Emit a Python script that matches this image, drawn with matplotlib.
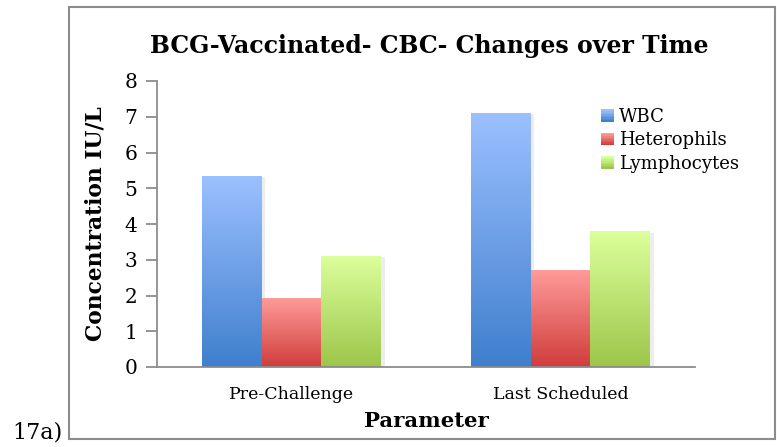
import numpy as np
import matplotlib
matplotlib.use("Agg")
import matplotlib.pyplot as plt
from matplotlib.colors import LinearSegmentedColormap
from matplotlib.patches import Rectangle
from matplotlib.legend_handler import HandlerBase

# data
categories = ["Pre-Challenge", "Last Scheduled"]
series = ["WBC", "Heterophils", "Lymphocytes"]
wbc = [5.34, 7.10]
heterophils = [1.93, 2.71]
lymphocytes = [3.10, 3.78]
values = [wbc, heterophils, lymphocytes]

# (top, bottom) gradient colours per series
GRAD = {
    "WBC":         ("#9bc0ff", "#3f7fcd"),
    "Heterophils": ("#ff9b9a", "#cf3d3b"),
    "Lymphocytes": ("#dcff9b", "#9dc64a"),
}

plt.rcParams["font.family"] = ["DejaVu Serif"]

W, H = 777, 447
fig = plt.figure(figsize=(W / 100, H / 100), dpi=100)
ax = fig.add_axes([157 / W, 1 - 367 / H, (695 - 157) / W, (367 - 81) / H])

bar_w = 0.223
x = np.arange(len(categories))
grad = np.linspace(1, 0, 256).reshape(-1, 1)   # row 0 = top of bar

for i, (name, vals) in enumerate(zip(series, values)):
    cmap = LinearSegmentedColormap.from_list(name, [GRAD[name][1], GRAD[name][0]])
    for xc, v in zip(x, vals):
        x0 = xc + (i - 1) * bar_w - bar_w / 2
        # soft shadow on the right
        ax.add_patch(Rectangle((x0 + 0.012, 0), bar_w, v - 0.03, facecolor="#000000",
                               alpha=0.07, edgecolor="none", zorder=1))
        ax.imshow(grad, cmap=cmap, extent=(x0, x0 + bar_w, 0, v),
                  aspect="auto", vmin=0, vmax=1, zorder=2, interpolation="bilinear")

ax.set_xlim(-0.5, 1.5)
ax.set_ylim(0, 8)
ax.set_yticks(range(0, 9))
ax.set_xticks(x)
ax.set_xticklabels(categories, fontsize=12.5)
ax.tick_params(axis="y", labelsize=14.5, length=8, width=1.3, color="#8c8c8c", pad=6)
ax.tick_params(axis="x", length=0, pad=14)
for s in ["top", "right"]:
    ax.spines[s].set_visible(False)
for s in ["left", "bottom"]:
    ax.spines[s].set_color("#8c8c8c")
    ax.spines[s].set_linewidth(1.3)

ax.set_ylabel("Concentration IU/L", fontsize=15.7, fontweight="bold")
ax.yaxis.set_label_coords(-0.094, 0.5)
fig.text(426 / W, 1 - 421 / H, "Parameter", ha="center", va="center",
         fontsize=15.3, fontweight="bold")
fig.text(429 / W, 1 - 46 / H, "BCG-Vaccinated- CBC- Changes over Time",
         ha="center", va="center", fontsize=17, fontweight="bold")
fig.text(12 / W, 1 - 433 / H, "17a)", ha="left", va="center", fontsize=16)

# outer frame
fig.add_artist(Rectangle((69 / W, 1 - 439 / H), (775 - 69) / W, (439 - 7) / H,
                         transform=fig.transFigure, fill=False,
                         edgecolor="#8c8c8c", linewidth=1.5))


class GradHandler(HandlerBase):
    def create_artists(self, legend, orig_handle, xd, yd, width, height, fontsize, trans):
        top, bottom = GRAD[orig_handle.get_label()]
        cmap = LinearSegmentedColormap.from_list("h", [bottom, top])
        arts = []
        n = 8
        side = height
        for k in range(n):
            arts.append(Rectangle((-xd, -yd + side * k / n), side, side / n,
                                  facecolor=cmap(k / (n - 1)), edgecolor="none",
                                  transform=trans))
        return arts


handles = [Rectangle((0, 0), 1, 1, label=s) for s in series]
ax.legend(handles=handles, labels=series, loc="upper left",
          bbox_to_anchor=(601 / W, 1 - 108 / H), bbox_transform=fig.transFigure,
          frameon=False, fontsize=13, handler_map={Rectangle: GradHandler()},
          handlelength=0.7, handleheight=0.7, handletextpad=0.3, labelspacing=0.3,
          borderaxespad=0, borderpad=0)

fig.savefig("out.png", dpi=100)
